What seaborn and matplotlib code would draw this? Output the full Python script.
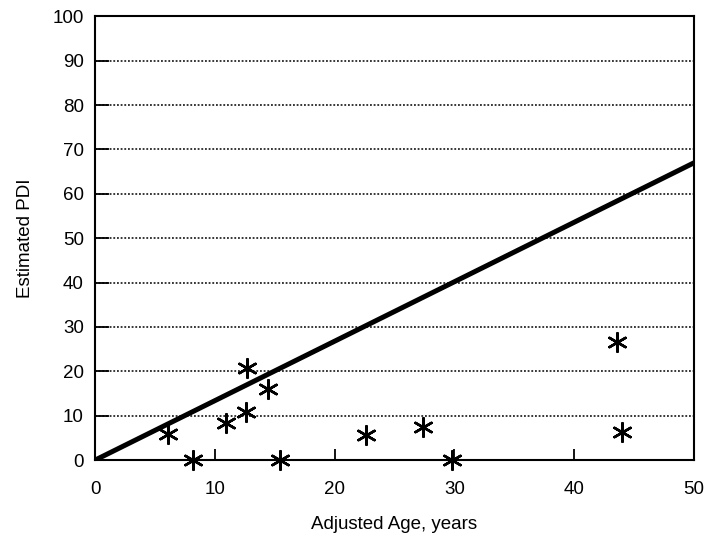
import matplotlib
matplotlib.use("Agg")
import matplotlib.pyplot as plt
import seaborn as sns
import pandas as pd

# Observed patients
adjusted_age = [6.1, 8.2, 10.9, 12.6, 12.7, 14.4, 15.4, 22.6, 27.4, 29.8, 43.6, 44.0]
estimated_pdi = [5.8, 0.0, 8.4, 10.9, 20.7, 16.0, 0.0, 5.6, 7.4, 0.0, 26.6, 6.4]

# Reference line
line_age = [0, 50]
line_pdi = [0, 67]

x_ticks = [0, 10, 20, 30, 40, 50]
y_ticks = [0, 10, 20, 30, 40, 50, 60, 70, 80, 90, 100]

sns.set_style("white")
plt.rcParams["font.family"] = ["Liberation Sans", "DejaVu Sans"]
plt.rcParams["text.color"] = "black"
plt.rcParams["axes.labelcolor"] = "black"

fig = plt.figure(figsize=(7.09, 5.42), dpi=100)
ax = fig.add_axes([0.134, 0.151, 0.845, 0.819])

for y in y_ticks[1:-1]:
    ax.axhline(y, color="black", linestyle=(0, (1.2, 1.2)), linewidth=1.1, zorder=1)

pts = pd.DataFrame({"age": adjusted_age, "pdi": estimated_pdi})
ref = pd.DataFrame({"age": line_age, "pdi": line_pdi})

sns.lineplot(data=ref, x="age", y="pdi", ax=ax, color="black", linewidth=3.6, zorder=3)
sns.scatterplot(data=pts, x="age", y="pdi", ax=ax, marker=(6, 2, 0), s=180,
                color="black", linewidth=1.8, zorder=4, clip_on=False)

ax.set_xlim(0, 50)
ax.set_ylim(0, 100)
ax.set_xticks(x_ticks)
ax.set_yticks(y_ticks)
ax.tick_params(bottom=True, left=True, direction="in", width=1.3,
               colors="black", labelsize=13.5)
ax.tick_params(axis="x", length=8, pad=15)
ax.tick_params(axis="y", length=10, pad=8)
for s in ax.spines.values():
    s.set_color("black")
    s.set_linewidth(1.5)

ax.set_xlabel("Adjusted Age, years", fontsize=13.5, labelpad=13)
ax.set_ylabel("Estimated PDI", fontsize=13.5, labelpad=13)

fig.savefig("out.png", dpi=100, facecolor="white")
